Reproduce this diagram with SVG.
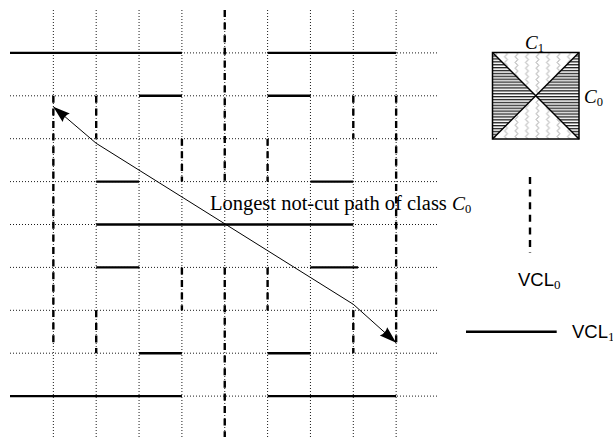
<svg xmlns="http://www.w3.org/2000/svg" width="613" height="437" viewBox="0 0 613 437">
<style>
.dot{stroke:#000;stroke-width:0.9;stroke-dasharray:1 2;fill:none}
.vcl1{stroke:#000;stroke-width:2.4;fill:none}
.vcl0{stroke:#000;stroke-width:2.4;stroke-dasharray:7 5.6;fill:none}
.serif{font-family:"Liberation Serif","Times New Roman",serif;fill:#000}
.sans{font-family:"Liberation Sans",Arial,sans-serif;fill:#000}
.thin{stroke:#000;stroke-width:1;fill:none}
</style>
<defs>
<marker id="ah" markerUnits="userSpaceOnUse" markerWidth="22" markerHeight="16" refX="0" refY="0" viewBox="-18 -8 20 16" orient="auto-start-reverse">
<path d="M0,0 L-17,-5.5 Q-14,0 -17,5.5 Z" fill="#000"/>
</marker>
<pattern id="hl" patternUnits="userSpaceOnUse" x="0" y="52.5" width="8" height="2.9">
<rect x="0" y="0" width="8" height="1.35" fill="#222"/>
</pattern>
<pattern id="wv" patternUnits="userSpaceOnUse" x="500.75" y="52.5" width="10.5" height="5.7">
<path d="M5.25,0 L6.6,1.425 L3.9,4.275 L5.25,5.7" stroke="#888" stroke-width="0.8" fill="none"/>
</pattern>
</defs>
<rect width="613" height="437" fill="#fff"/>

<g id="grid">
<line class="dot" x1="10" y1="52.9" x2="438" y2="52.9"/>
<line class="dot" x1="10" y1="95.8" x2="438" y2="95.8"/>
<line class="dot" x1="10" y1="138.7" x2="438" y2="138.7"/>
<line class="dot" x1="10" y1="181.6" x2="438" y2="181.6"/>
<line class="dot" x1="10" y1="224.5" x2="438" y2="224.5"/>
<line class="dot" x1="10" y1="267.4" x2="438" y2="267.4"/>
<line class="dot" x1="10" y1="310.3" x2="438" y2="310.3"/>
<line class="dot" x1="10" y1="353.2" x2="438" y2="353.2"/>
<line class="dot" x1="10" y1="396.1" x2="438" y2="396.1"/>
<line class="dot" x1="53.35" y1="10" x2="53.35" y2="439"/>
<line class="dot" x1="96.2" y1="10" x2="96.2" y2="439"/>
<line class="dot" x1="139.05" y1="10" x2="139.05" y2="439"/>
<line class="dot" x1="181.9" y1="10" x2="181.9" y2="439"/>
<line class="dot" x1="224.75" y1="10" x2="224.75" y2="439"/>
<line class="dot" x1="267.6" y1="10" x2="267.6" y2="439"/>
<line class="dot" x1="310.45" y1="10" x2="310.45" y2="439"/>
<line class="dot" x1="353.3" y1="10" x2="353.3" y2="439"/>
<line class="dot" x1="396.15" y1="10" x2="396.15" y2="439"/>
</g>

<g id="vcl1-lines">
<line class="vcl1" x1="10" y1="52.9" x2="181.9" y2="52.9"/>
<line class="vcl1" x1="267.6" y1="52.9" x2="396.15" y2="52.9"/>
<line class="vcl1" x1="139.05" y1="95.8" x2="181.9" y2="95.8"/>
<line class="vcl1" x1="267.6" y1="95.8" x2="310.45" y2="95.8"/>
<line class="vcl1" x1="96.2" y1="181.6" x2="139.05" y2="181.6"/>
<line class="vcl1" x1="310.45" y1="181.6" x2="353.3" y2="181.6"/>
<line class="vcl1" x1="96.2" y1="224.5" x2="353.3" y2="224.5"/>
<line class="vcl1" x1="96.2" y1="267.4" x2="139.05" y2="267.4"/>
<line class="vcl1" x1="310.45" y1="267.4" x2="358" y2="267.4"/>
<line class="vcl1" x1="139.05" y1="353.2" x2="181.9" y2="353.2"/>
<line class="vcl1" x1="267.6" y1="353.2" x2="310.45" y2="353.2"/>
<line class="vcl1" x1="10" y1="396.1" x2="181.9" y2="396.1"/>
<line class="vcl1" x1="267.6" y1="396.1" x2="396.15" y2="396.1"/>
</g>

<g id="vcl0-lines">
<line class="vcl0" x1="53.35" y1="95.8" x2="53.35" y2="346"/>
<line class="vcl0" x1="96.2" y1="95.8" x2="96.2" y2="138.7"/>
<line class="vcl0" x1="96.2" y1="310.3" x2="96.2" y2="353.2"/>
<line class="vcl0" x1="181.9" y1="138.7" x2="181.9" y2="181.6"/>
<line class="vcl0" x1="181.9" y1="267.4" x2="181.9" y2="310.3"/>
<line class="vcl0" x1="224.75" y1="10" x2="224.75" y2="181.6"/>
<line class="vcl0" x1="224.75" y1="267.4" x2="224.75" y2="439"/>
<line class="vcl0" x1="267.6" y1="138.7" x2="267.6" y2="181.6"/>
<line class="vcl0" x1="267.6" y1="267.4" x2="267.6" y2="310.3"/>
<line class="vcl0" x1="353.3" y1="95.8" x2="353.3" y2="138.7"/>
<line class="vcl0" x1="353.3" y1="310.3" x2="353.3" y2="353.2"/>
<line class="vcl0" x1="396.15" y1="95.8" x2="396.15" y2="346"/>
</g>

<g id="connectors">
<polyline class="thin" points="53.3,106.7 96.2,143.3 353.3,304.3 396.15,342.7" marker-start="url(#ah)" marker-end="url(#ah)"/>
</g>

<g id="path-label">
<text class="serif" x="210" y="210" font-size="20.5">Longest not-cut path of class <tspan font-style="italic" font-size="19.5">C</tspan><tspan font-size="12.5" dy="3">0</tspan></text>
</g>

<g id="legend-classes">
<polygon points="492.5,52.5 535.75,95.75 492.5,139" fill="url(#hl)"/>
<polygon points="579,52.5 535.75,95.75 579,139" fill="url(#hl)"/>
<polygon points="492.5,52.5 579,52.5 535.75,95.75" fill="url(#wv)"/>
<polygon points="492.5,139 579,139 535.75,95.75" fill="url(#wv)"/>
<rect x="492.5" y="52.5" width="86.5" height="86.5" fill="none" stroke="#000" stroke-width="1.5"/>
<line x1="492.5" y1="52.5" x2="579" y2="139" stroke="#000" stroke-width="1.5"/>
<line x1="579" y1="52.5" x2="492.5" y2="139" stroke="#000" stroke-width="1.5"/>
<text class="serif" x="525" y="49" font-size="19" font-style="italic">C<tspan font-style="normal" font-size="12.5" dy="3">1</tspan></text>
<text class="serif" x="584" y="103" font-size="19" font-style="italic">C<tspan font-style="normal" font-size="12.5" dy="3">0</tspan></text>
</g>

<g id="legend-vcl0">
<line class="vcl0" x1="530" y1="177" x2="530" y2="253"/>
<text class="sans" x="518" y="286" font-size="18.5">VCL<tspan class="serif" font-size="13" dy="3">0</tspan></text>
</g>

<g id="legend-vcl1">
<line class="vcl1" x1="466" y1="331.7" x2="556.7" y2="331.7"/>
<text class="sans" x="572" y="338" font-size="18.5">VCL<tspan class="serif" font-size="13" dy="3">1</tspan></text>
</g>
</svg>
